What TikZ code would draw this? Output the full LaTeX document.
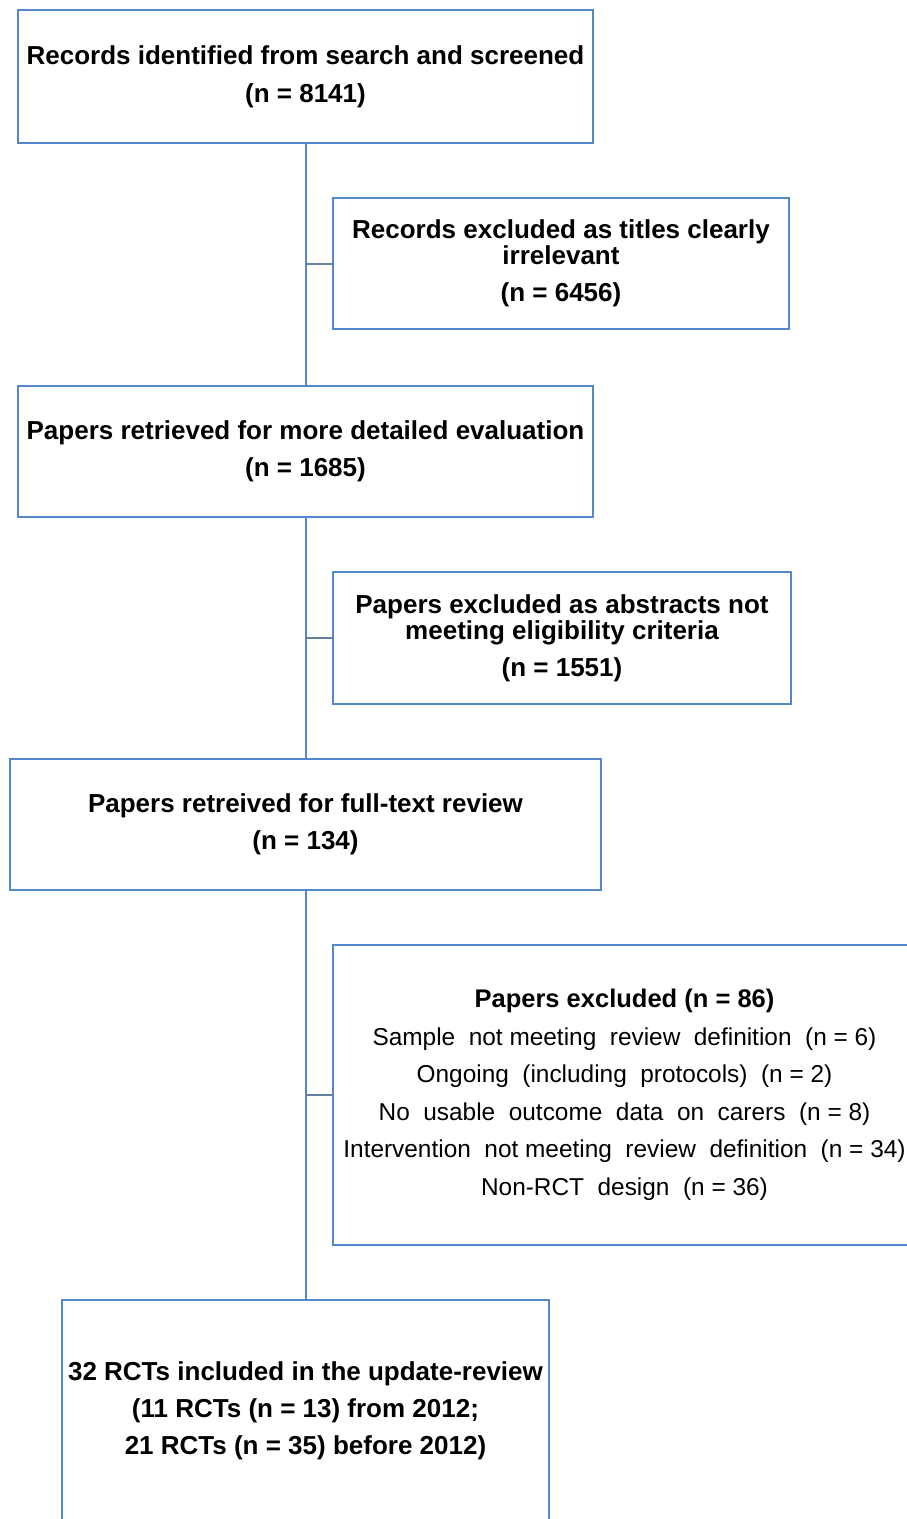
\documentclass[tikz,border=0pt]{standalone}
\usepackage{fontspec}
\setmainfont{Liberation Sans}
\usepackage{tikz}
\usetikzlibrary{positioning}
\definecolor{boxblue}{RGB}{84,136,204}
\definecolor{stubgray}{RGB}{100,128,162}

\begin{document}
\begin{tikzpicture}[x=1pt, y=-1pt,
    flowbox/.style={draw=boxblue, line width=2pt, inner sep=0pt, align=center,
        font=\fontsize{26}{26}\selectfont\bfseries},
    trunk/.style={draw=boxblue, line width=2pt},
    stub/.style={draw=stubgray, line width=2pt}]
            \useasboundingbox (0,0) rectangle (906,1519);
            % Main column
            \node[flowbox, minimum width=575pt, minimum height=133pt] (records) at (305.5, 76.5)
                {\raisebox{-2pt}{Records identified from search and screened}\\[14pt](n = 8141)};
            \node[flowbox, minimum width=575pt, minimum height=131pt] (retrieved) at (305.5, 451.5)
                {Papers retrieved for more detailed evaluation\\[11pt](n = 1685)};
            \node[flowbox, minimum width=591pt, minimum height=131pt] (fulltext) at (305.5, 824.5)
                {Papers retreived for full-text review\\[11pt](n = 134)};
            \node[flowbox, minimum width=487pt, minimum height=222pt] (included) at (305.5, 1411)
                {32 RCTs included in the update-review\\[11pt](11 RCTs (n = 13) from 2012;\\[11pt]21 RCTs (n = 35) before 2012)};

            % Exclusion boxes
            \node[flowbox, minimum width=456pt, minimum height=131pt] (titles) at (561, 263.5)
                {Records excluded as titles clearly\\irrelevant\\[11pt](n = 6456)};
            \node[flowbox, minimum width=458pt, minimum height=132pt] (abstracts) at (562, 638)
                {Papers excluded as abstracts not\\meeting eligibility criteria\\[11pt](n = 1551)};
            \node[flowbox, minimum width=583pt, minimum height=300pt, font=\fontsize{24.4}{26}\selectfont] (excluded) at (624.5, 1095)
                {\textbf{\fontsize{25.5}{26}\selectfont Papers excluded (n = 86)}\\[11.5pt]
                 Sample\ \ not meeting\ \ review\ \ definition\ \ (n = 6)\\[11.5pt]
                 Ongoing\ \ (including\ \ protocols)\ \ (n = 2)\\[11.5pt]
                 No\ \ usable\ \ outcome\ \ data\ \ on\ \ carers\ \ (n = 8)\\[11.5pt]
                 Intervention\ \ not meeting\ \ review\ \ definition\ \ (n = 34)\\[11.5pt]
                 Non-RCT\ \ design\ \ (n = 36)};

            % Connectors
            \draw[trunk] (records.south) -- (retrieved.north);
            \draw[trunk] (retrieved.south) -- (fulltext.north);
            \draw[trunk] (fulltext.south) -- (included.north);
            \draw[stub] (titles.west) -- (titles.west -| records.south);
            \draw[stub] (abstracts.west) -- (abstracts.west -| records.south);
            \draw[stub] (excluded.west) -- (excluded.west -| records.south);
        \end{tikzpicture}
\end{document}
